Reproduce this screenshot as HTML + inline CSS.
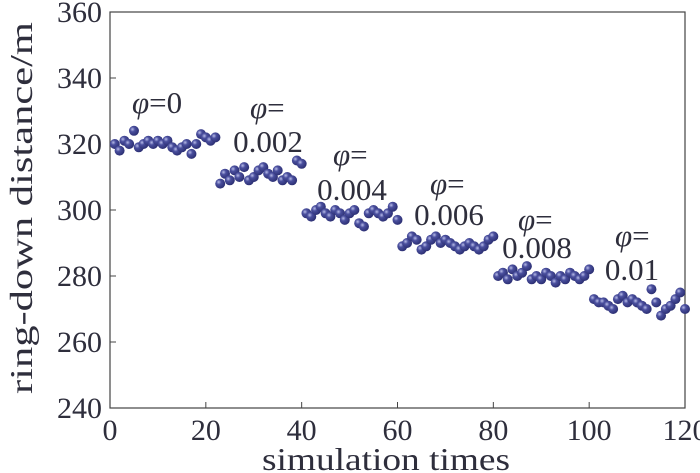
<!DOCTYPE html>
<html><head><meta charset="utf-8"><style>
body{margin:0;background:#fff}
svg{display:block}
text{font-family:"Liberation Serif",serif;fill:#2e2e3c}
</style></head><body>
<svg width="700" height="473" viewBox="0 0 700 473">
<defs><radialGradient id="g" cx="0.35" cy="0.35" r="0.7"><stop offset="0" stop-color="#b8bce8"/><stop offset="0.35" stop-color="#4a4f9e"/><stop offset="1" stop-color="#2a2d70"/></radialGradient></defs>
<rect x="110" y="12" width="575" height="396" fill="none" stroke="#444" stroke-width="1.2"/>
<g id="ticks"></g>
<g id="pts"></g>
<text x="386" y="470" font-size="32" text-anchor="middle" textLength="248" lengthAdjust="spacingAndGlyphs">simulation times</text>
<text transform="translate(32,208) rotate(-90)" font-size="32" text-anchor="middle" textLength="372" lengthAdjust="spacingAndGlyphs">ring-down distance/m</text>
<g font-size="31">
<text x="132" y="113"><tspan font-style="italic">φ</tspan>=0</text>
<text x="250" y="118"><tspan font-style="italic">φ</tspan>=</text>
<text x="268" y="152" text-anchor="middle">0.002</text>
<text x="333" y="165"><tspan font-style="italic">φ</tspan>=</text>
<text x="352" y="200" text-anchor="middle">0.004</text>
<text x="430" y="194"><tspan font-style="italic">φ</tspan>=</text>
<text x="449" y="225" text-anchor="middle">0.006</text>
<text x="518" y="230"><tspan font-style="italic">φ</tspan>=</text>
<text x="537" y="258" text-anchor="middle">0.008</text>
<text x="615" y="246"><tspan font-style="italic">φ</tspan>=</text>
<text x="632" y="280" text-anchor="middle">0.01</text>
</g>
</svg>
<script>
const xTicks=[0,20,40,60,80,100,120];
const yTicks=[240,260,280,300,320,340,360];
const values=[
320,318,321,320,324,319,320,321,320,321,320,321,319,318,319,320,317,320,323,322,
321,322,308,311,309,312,310,313,309,310,312,313,311,310,312,309,310,309,315,314,
299,298,300,301,299,298,300,299,297,299,300,296,295,299,300,299,298,299,301,297,
289,290,292,291,288,289,291,292,290,291,290,289,288,289,290,289,288,289,291,292,
280,281,279,282,280,281,283,279,280,279,281,280,278,280,279,281,280,279,280,282,
273,272,272,271,270,273,274,272,273,272,271,270,276,272,268,270,271,273,275,270];
const xs=values.map((v,i)=>i+1);
const X=v=>110+v*575/120, Y=v=>408-(v-240)*396/120;
const NS='http://www.w3.org/2000/svg';
const tk=document.getElementById('ticks');
xTicks.forEach(t=>{
 const l=document.createElementNS(NS,'line');
 l.setAttribute('x1',X(t));l.setAttribute('x2',X(t));l.setAttribute('y1',408);l.setAttribute('y2',402);l.setAttribute('stroke','#444');
 
 
 tk.appendChild(l);
 const s=document.createElementNS(NS,'text');
 s.setAttribute('x',X(t));s.setAttribute('y',440);s.setAttribute('font-size','30');s.setAttribute('text-anchor','middle');s.textContent=t;
 
 
 tk.appendChild(s);
});
yTicks.forEach(t=>{
 const l=document.createElementNS(NS,'line');
 l.setAttribute('x1',110);l.setAttribute('x2',116);l.setAttribute('y1',Y(t));l.setAttribute('y2',Y(t));l.setAttribute('stroke','#444');
 
 
 tk.appendChild(l);
 const s=document.createElementNS(NS,'text');
 s.setAttribute('x',102);s.setAttribute('y',Y(t)+10);s.setAttribute('font-size','30');s.setAttribute('text-anchor','end');s.textContent=t;
 
 
 tk.appendChild(s);
});
const pg=document.getElementById('pts');
values.forEach((v,i)=>{
 const c=document.createElementNS(NS,'circle');
 c.setAttribute('cx',X(xs[i]));c.setAttribute('cy',Y(v));c.setAttribute('r',5);c.setAttribute('fill','url(#g)');
 
 
 pg.appendChild(c);
});
</script>
</body></html>
